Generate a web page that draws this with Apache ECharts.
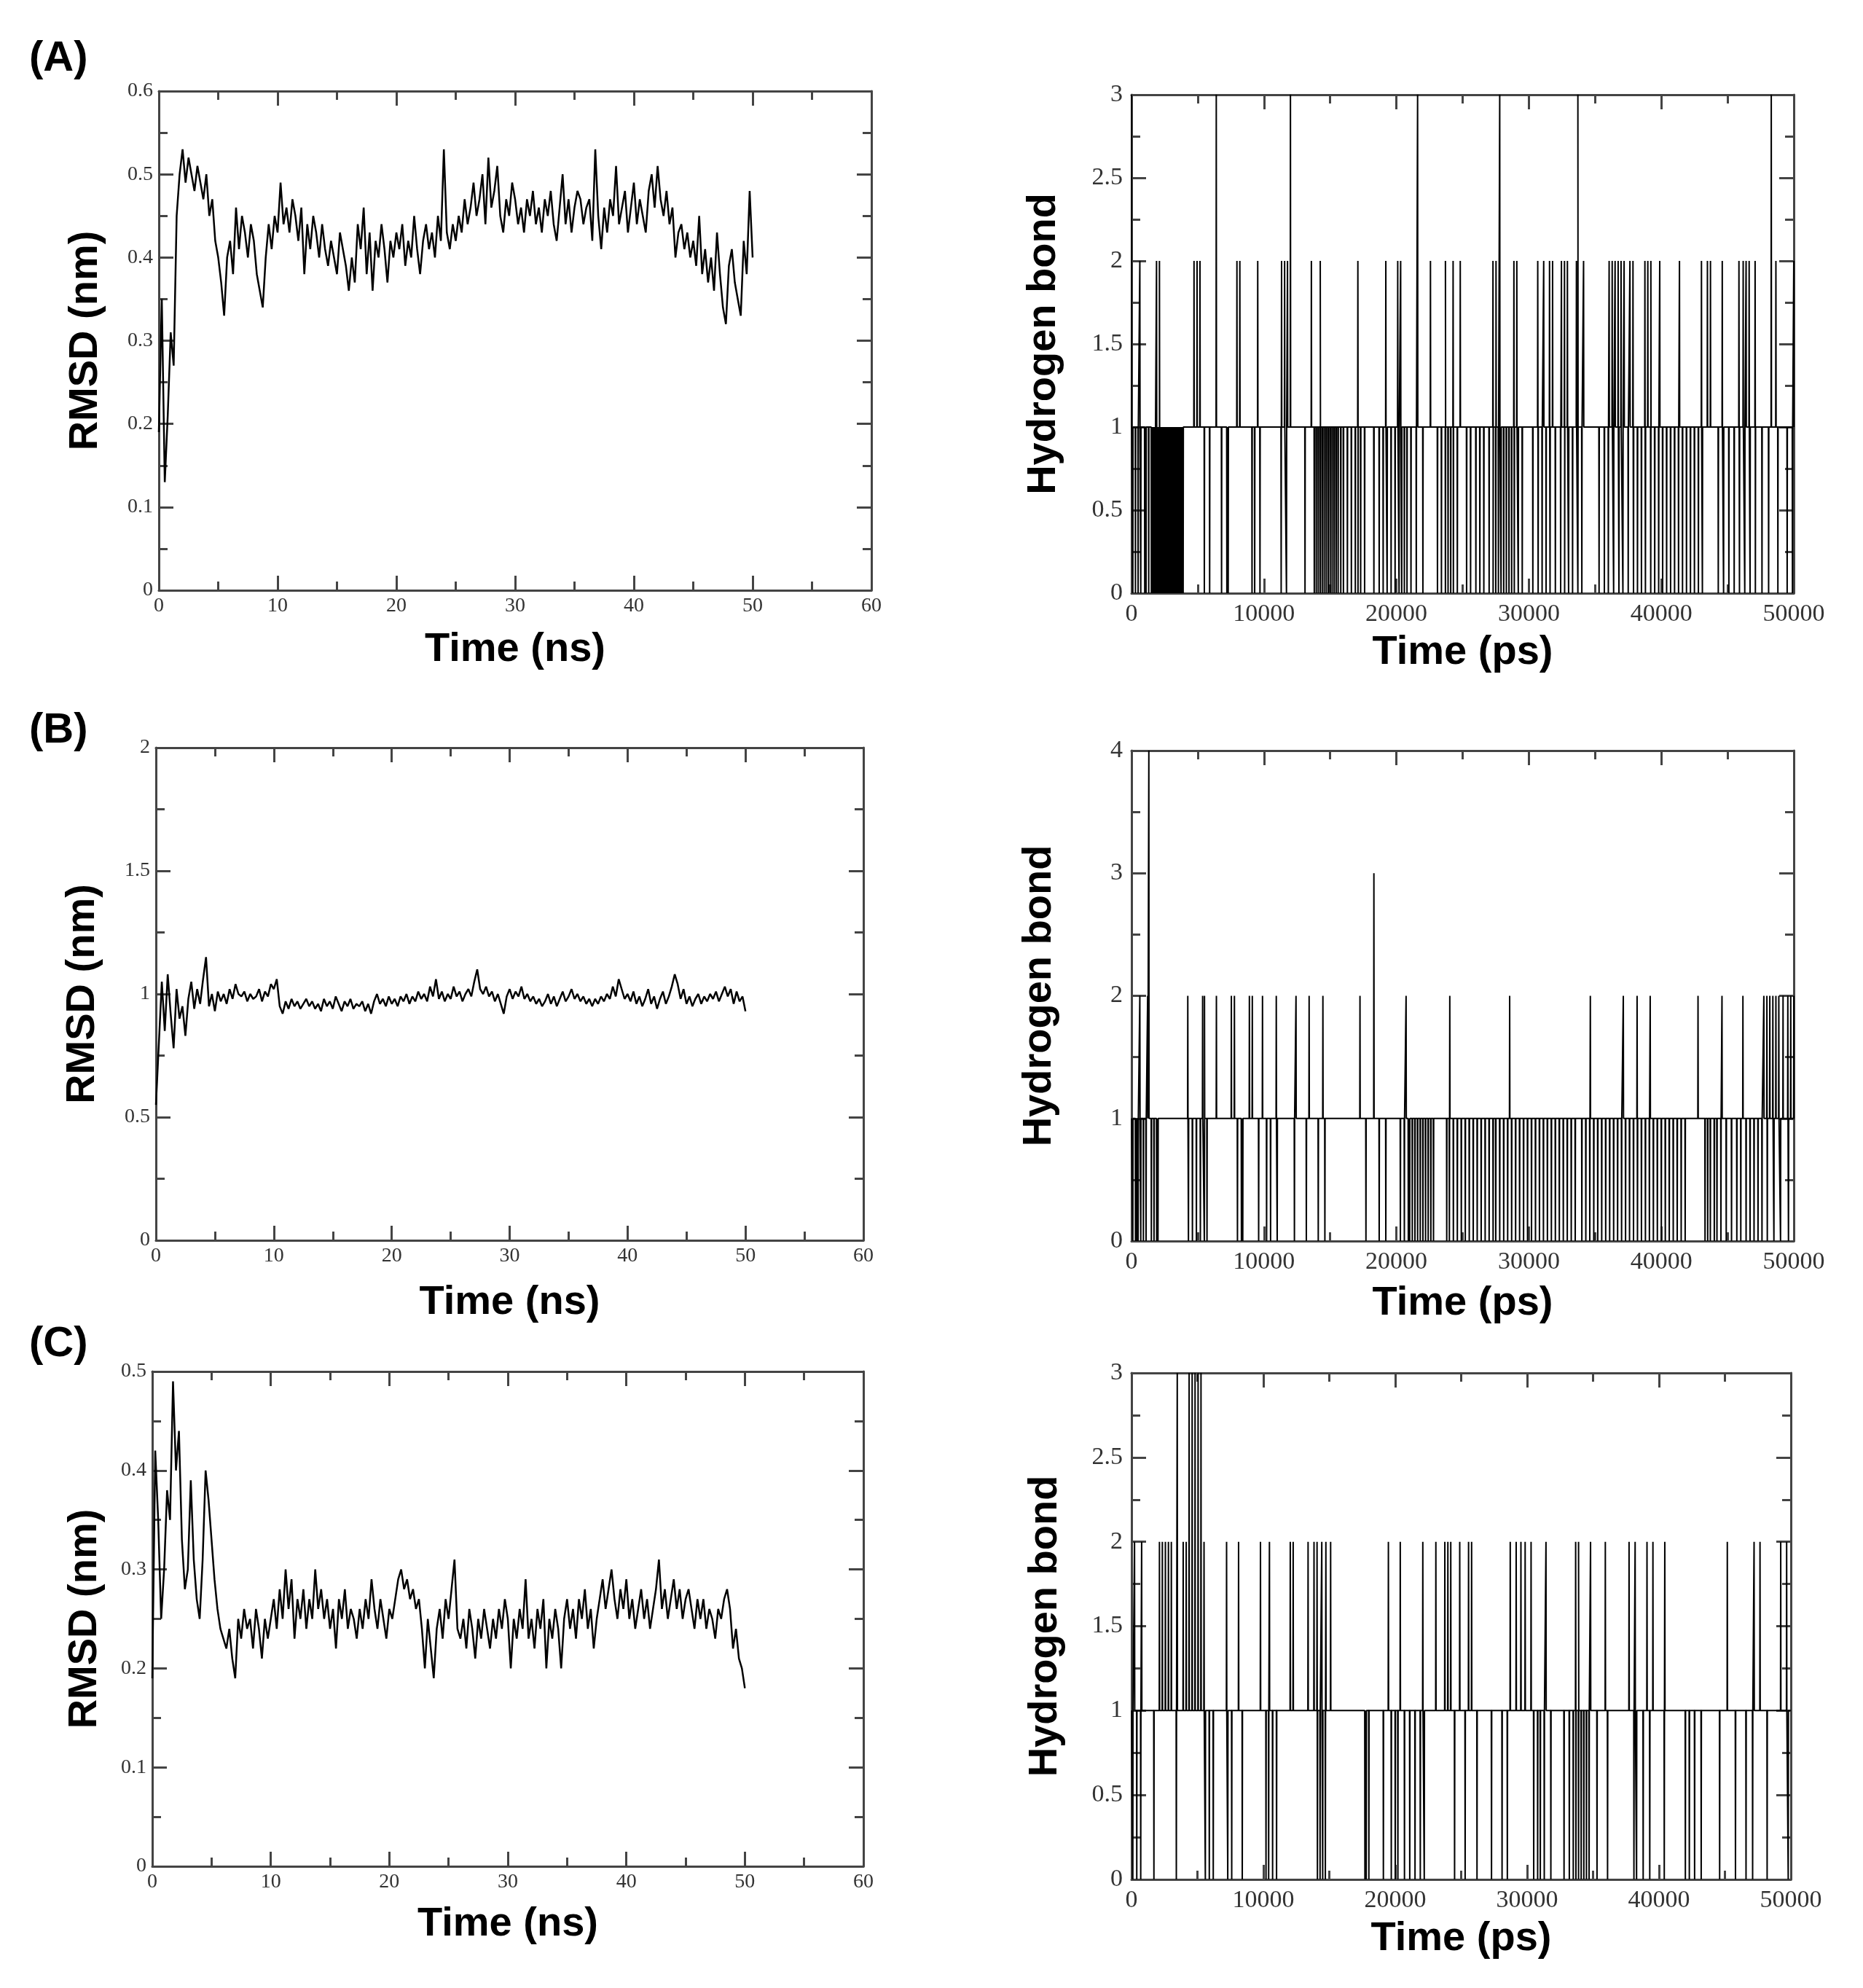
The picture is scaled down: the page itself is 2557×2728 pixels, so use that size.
<!DOCTYPE html>
<html style="height: 100%">
<head>
<meta charset="utf-8">
<script src="https://cdn.jsdelivr.net/npm/echarts@6/dist/echarts.min.js"></script>
</head>
<body style="height: 100%; margin: 0; background: #fff">
<div id="container" style="width: 2557px; height: 2728px"></div>
<script type="text/javascript">
// RMSD traces, one value every 0.25 ns from 0 to 50 ns
var rmsdStep = 0.25;
var rmsdA = [
 0.19,0.35,0.13,0.21,0.31,0.27,0.45,0.50,0.53,0.49,0.52,0.50,0.48,0.51,0.49,0.47,0.50,0.45,0.47,0.42,
 0.40,0.37,0.33,0.40,0.42,0.38,0.46,0.41,0.45,0.43,0.40,0.44,0.42,0.38,0.36,0.34,0.40,0.44,0.41,0.45,
 0.43,0.49,0.44,0.46,0.43,0.47,0.45,0.42,0.46,0.38,0.44,0.41,0.45,0.43,0.40,0.44,0.41,0.39,0.42,0.40,
 0.38,0.43,0.41,0.39,0.36,0.40,0.37,0.44,0.41,0.46,0.38,0.43,0.36,0.42,0.40,0.44,0.41,0.37,0.42,0.40,
 0.43,0.41,0.44,0.39,0.42,0.40,0.45,0.41,0.38,0.42,0.44,0.41,0.43,0.40,0.45,0.42,0.53,0.43,0.41,0.44,
 0.42,0.45,0.43,0.47,0.44,0.46,0.49,0.45,0.47,0.50,0.44,0.52,0.46,0.48,0.51,0.45,0.43,0.47,0.45,0.49,
 0.47,0.44,0.46,0.43,0.47,0.45,0.48,0.44,0.46,0.43,0.47,0.45,0.48,0.44,0.42,0.46,0.50,0.44,0.47,0.43,
 0.46,0.48,0.47,0.44,0.46,0.47,0.42,0.53,0.45,0.41,0.46,0.43,0.47,0.45,0.51,0.44,0.46,0.48,0.43,0.46,
 0.49,0.44,0.47,0.45,0.43,0.48,0.50,0.46,0.51,0.47,0.45,0.48,0.44,0.46,0.40,0.43,0.44,0.41,0.43,0.40,
 0.42,0.39,0.45,0.38,0.41,0.37,0.40,0.36,0.43,0.38,0.34,0.32,0.39,0.41,0.37,0.35,0.33,0.42,0.38,0.48,
 0.40
];
var rmsdB = [
 0.55,0.80,1.05,0.85,1.08,0.92,0.78,1.02,0.90,0.95,0.83,0.98,1.05,0.94,1.02,0.96,1.06,1.15,0.95,1.00,
 0.93,1.01,0.97,1.00,0.96,1.02,0.98,1.04,1.00,0.99,1.01,0.97,1.00,0.98,0.99,1.02,0.97,1.01,0.99,1.04,
 1.02,1.06,0.95,0.92,0.97,0.94,0.98,0.95,0.97,0.94,0.96,0.98,0.95,0.97,0.94,0.96,0.93,0.98,0.95,0.97,
 0.94,0.99,0.96,0.93,0.97,0.95,0.98,0.94,0.96,0.95,0.97,0.93,0.96,0.92,0.97,1.00,0.96,0.98,0.95,0.99,
 0.96,0.98,0.95,0.99,0.97,1.00,0.96,0.99,0.97,1.01,0.98,1.00,0.97,1.03,0.99,1.06,0.98,1.01,0.97,1.00,
 0.98,1.03,0.99,1.01,0.97,1.00,1.02,0.99,1.05,1.10,1.02,1.00,1.03,0.99,1.01,0.97,1.00,0.96,0.92,0.99,
 1.02,0.98,1.01,0.99,1.03,0.98,1.00,0.97,0.99,0.96,0.98,0.95,0.97,1.00,0.96,0.99,0.95,0.98,1.01,0.97,
 0.99,1.02,0.98,1.00,0.97,0.99,0.96,0.98,0.95,0.98,0.96,0.99,0.97,1.00,0.98,1.03,0.99,1.06,1.02,0.98,
 1.00,0.97,1.01,0.96,0.99,0.95,0.98,1.02,0.96,0.99,0.94,0.98,1.01,0.96,0.99,1.03,1.08,1.04,0.98,1.02,
 0.96,0.99,0.95,0.98,1.00,0.96,0.99,0.97,1.00,0.98,1.01,0.97,1.00,1.03,0.99,1.02,0.96,1.01,0.97,0.99,
 0.93
];
var rmsdC = [
 0.19,0.42,0.35,0.25,0.30,0.38,0.35,0.49,0.40,0.44,0.33,0.28,0.30,0.39,0.31,0.27,0.25,0.31,0.40,0.37,
 0.33,0.29,0.26,0.24,0.23,0.22,0.24,0.21,0.19,0.25,0.23,0.26,0.24,0.25,0.22,0.26,0.24,0.21,0.25,0.23,
 0.25,0.27,0.24,0.28,0.25,0.30,0.26,0.29,0.23,0.27,0.25,0.28,0.24,0.27,0.25,0.30,0.26,0.28,0.25,0.27,
 0.24,0.26,0.22,0.27,0.25,0.28,0.24,0.26,0.25,0.23,0.26,0.24,0.27,0.25,0.29,0.26,0.24,0.27,0.25,0.23,
 0.26,0.25,0.27,0.29,0.30,0.28,0.29,0.27,0.28,0.26,0.27,0.24,0.20,0.25,0.22,0.19,0.24,0.26,0.23,0.27,
 0.25,0.28,0.31,0.24,0.23,0.25,0.22,0.26,0.24,0.21,0.25,0.23,0.26,0.24,0.22,0.25,0.23,0.26,0.24,0.27,
 0.25,0.20,0.25,0.23,0.26,0.24,0.29,0.23,0.25,0.22,0.26,0.24,0.27,0.20,0.25,0.23,0.26,0.24,0.20,0.25,
 0.27,0.24,0.26,0.23,0.27,0.25,0.28,0.24,0.26,0.22,0.25,0.27,0.29,0.26,0.28,0.30,0.27,0.25,0.28,0.26,
 0.29,0.25,0.27,0.24,0.26,0.28,0.25,0.27,0.24,0.26,0.28,0.31,0.26,0.28,0.25,0.27,0.29,0.26,0.28,0.25,
 0.27,0.28,0.26,0.24,0.27,0.25,0.27,0.24,0.26,0.25,0.23,0.26,0.25,0.27,0.28,0.26,0.22,0.24,0.21,0.20,
 0.18
];

// hydrogen bond counts: the count sits at 1 and jumps to these values at these times (ps)
var hbA_zero = [100,300,500,700,1000,1100,1300,1500,1600,1700,1800,1900,2000,2100,2200,2300,2400,2500,2600,2700,
 2800,2900,3000,3100,3200,3300,3400,3500,3600,3700,3800,3900,5500,5900,6800,7200,7300,9100,9300,9700,
 11300,11700,13100,13800,13950,14100,14250,14400,14550,14700,14850,15000,15150,15300,15450,15600,15800,16000,16300,16600,
 16900,17100,17300,17600,18300,18700,19000,19300,19600,19900,20200,20400,20600,20800,21100,21500,22000,23100,23400,23700,
 23900,24100,24300,24600,25300,25600,26000,26300,26600,27000,27300,27500,27700,27900,28100,28300,28500,28700,28900,29200,
 29500,30300,30700,31000,31300,31600,32000,32400,32700,33000,33300,33700,34000,35300,35700,36000,36400,36800,37100,37500,
 37900,38200,38500,38800,39200,39500,39800,40100,40400,40700,41000,41300,41600,41900,42200,42500,42800,43100,44300,44700,
 45100,45500,45900,46300,46700,47100,47600,48100,48800,49500,49900];
var hbA_two = [630,1890,2110,4720,4950,5170,7960,8180,9530,11330,11560,11780,13580,14250,17090,19200,20100,20320,22570,23700,
 24280,24820,27290,27520,28870,29090,30670,31120,31560,31790,32460,32690,32910,33590,34130,36060,36290,36510,36740,36960,
 37190,37630,37860,38760,38980,39210,39880,41370,43030,43480,43710,44600,45860,46180,46400,46630,47080,48650,50000];
var hbA_three = [0,6400,12000,21600,27800,33700,48300];

var hbB_zero = [100,300,400,500,700,900,1100,1500,1700,1900,2000,4300,4600,4900,5200,5500,5700,8000,8300,8400,
 9600,10200,10500,11000,12300,13200,14100,14600,17700,18700,19200,20300,20600,20900,21000,21200,21400,21600,21800,22000,
 22200,22400,22600,22800,23800,24000,24300,24600,24900,25200,25500,25800,26100,26400,26700,27000,27300,27500,27800,28100,
 28400,28700,29000,29300,29600,29900,30200,30500,30800,31100,31400,31700,32000,32300,32600,32900,33200,33500,34000,34300,
 34600,34900,35200,35500,35800,36100,36400,36700,37000,37300,37600,37900,38200,38500,38800,39100,39400,39700,40000,40300,
 40600,40900,41200,41500,41800,43300,43500,43700,44000,44200,44500,44900,45300,45700,46000,46400,46700,47000,47300,47600,
 48000,48500,49000,49600];
var hbB_two = [630,1220,4250,5370,5510,6410,7540,7770,8900,9120,9890,10930,12420,13410,14450,17250,20730,24030,28550,34640,
 37130,38170,39160,42770,44580,46160,47740,47970,48190,48420,48650,48870,49190,49550,49770,50000];
var hbB_three = [18300];
var hbB_four = [1310];

var hbC_zero = [100,400,700,1700,3400,5600,5900,6200,7300,7600,8400,10200,10400,10700,11000,14100,14300,14500,14700,17700,
 17800,18000,19100,19700,20000,20200,20700,21100,21500,21900,22200,24500,25300,26200,27300,28100,28500,30500,30800,31000,
 31300,31800,32800,33200,33500,33700,33900,34100,34300,34500,34700,35300,36100,38100,38300,38800,39300,40400,42000,42300,
 42700,43200,44600,45800,46600,47100,48200,49800];
var hbC_two = [230,770,2120,2340,2570,2800,3020,3920,4150,5500,7210,8120,9780,10460,12040,12260,13390,13840,14070,14430,
 14740,15100,19480,20380,22090,23080,23760,23990,24210,24890,25560,25790,28720,29170,29530,29850,30300,31430,33680,33900,
 34810,35930,37730,38190,39090,39540,40440,45180,47210,47660,49230,49680];
var hbC_three = [3470,4370,4600,4820,5050,5270];

var nsTicks = {min: 0, max: 60, interval: 10};
var psTicks = {min: 0, max: 50000, interval: 10000};

function rmsdPoints(arr) {
    return arr.map(function (v, i) { return [i * rmsdStep, v]; });
}

function hbPoints(zero, two, three, four) {
    var ev = [];
    zero.forEach(function (t) { ev.push([t, 0]); });
    (two || []).forEach(function (t) { ev.push([t, 2]); });
    (three || []).forEach(function (t) { ev.push([t, 3]); });
    (four || []).forEach(function (t) { ev.push([t, 4]); });
    ev.sort(function (a, b) { return a[0] - b[0]; });
    var d = 15, pts = [[0, 1]];
    ev.forEach(function (e) {
        if (e[0] - d > 0) pts.push([e[0] - d, 1]);
        pts.push(e);
        if (e[0] + d < 50000) pts.push([e[0] + d, 1]);
    });
    pts.push([50000, 1]);
    return pts;
}

var grids = [
    {left: 218, top: 125, width: 978, height: 685},
    {left: 1553, top: 130, width: 909, height: 684},
    {left: 214, top: 1026, width: 971, height: 676},
    {left: 1553, top: 1030, width: 909, height: 673},
    {left: 209, top: 1882, width: 976, height: 679},
    {left: 1553, top: 1884, width: 905, height: 695}
];

var frame = '#444';
var nameFont = {fontFamily: 'Liberation Sans', fontWeight: 'bold', fontSize: 56, color: '#000'};

function axisPair(dim, gi, ticks, labelSize, name, nameGap, margin) {
    var base = {
        type: 'value', gridIndex: gi,
        min: ticks.min, max: ticks.max, interval: ticks.interval,
        splitLine: {show: false},
        axisLine: {show: true, onZero: false, lineStyle: {color: frame, width: 3}},
        axisTick: {show: true, inside: true, length: 20, lineStyle: {color: frame, width: 3}},
        minorTick: {show: true, splitNumber: 2, length: 12, lineStyle: {color: frame, width: 3}},
        minorSplitLine: {show: false}
    };
    var main = Object.assign({}, base, {
        position: dim === 'x' ? 'bottom' : 'left',
        name: name, nameLocation: 'middle', nameGap: nameGap, nameTextStyle: nameFont,
        axisLabel: {show: true, margin: margin, fontFamily: 'Liberation Serif', fontSize: labelSize,
            color: '#333', showMinLabel: true, showMaxLabel: true,
            formatter: function (v) { return String(v); }}
    });
    var mirror = Object.assign({}, base, {
        position: dim === 'x' ? 'top' : 'right',
        axisLabel: {show: false}
    });
    return [main, mirror];
}

var xAxes = [], yAxes = [];
function panel(gi, xt, yt, labelSize, xName, xGap, yName, yGap, margin) {
    xAxes = xAxes.concat(axisPair('x', gi, xt, labelSize, xName, xGap, margin));
    yAxes = yAxes.concat(axisPair('y', gi, yt, labelSize, yName, yGap, margin));
}
panel(0, nsTicks, {min: 0, max: 0.6, interval: 0.1}, 28, 'Time (ns)', 54, 'RMSD (nm)', 72, 8);
panel(1, psTicks, {min: 0, max: 3, interval: 0.5}, 34, 'Time (ps)', 54, 'Hydrogen bond', 92, 12);
panel(2, nsTicks, {min: 0, max: 2, interval: 0.5}, 28, 'Time (ns)', 58, 'RMSD (nm)', 72, 8);
panel(3, psTicks, {min: 0, max: 4, interval: 1}, 34, 'Time (ps)', 58, 'Hydrogen bond', 98, 12);
panel(4, nsTicks, {min: 0, max: 0.5, interval: 0.1}, 28, 'Time (ns)', 52, 'RMSD (nm)', 64, 8);
panel(5, psTicks, {min: 0, max: 3, interval: 0.5}, 34, 'Time (ps)', 54, 'Hydrogen bond', 90, 12);

function lineSeries(gi, data, w) {
    return {
        type: 'line', xAxisIndex: gi * 2, yAxisIndex: gi * 2, data: data,
        showSymbol: false, symbol: 'none', silent: true,
        lineStyle: {color: '#000', width: w}
    };
}

var labelStyle = {fontFamily: 'Liberation Sans', fontWeight: 'bold', fontSize: 58, fill: '#000'};
var myChart = echarts.init(document.getElementById('container'));
var option = {
    animation: false,
    backgroundColor: '#fff',
    grid: grids,
    xAxis: xAxes,
    yAxis: yAxes,
    graphic: [
        {type: 'text', left: 40, top: 52, style: Object.assign({text: '(A)'}, labelStyle)},
        {type: 'text', left: 40, top: 974, style: Object.assign({text: '(B)'}, labelStyle)},
        {type: 'text', left: 40, top: 1816, style: Object.assign({text: '(C)'}, labelStyle)}
    ],
    series: [
        lineSeries(0, rmsdPoints(rmsdA), 2.5),
        lineSeries(1, hbPoints(hbA_zero, hbA_two, hbA_three), 2),
        lineSeries(2, rmsdPoints(rmsdB), 2.5),
        lineSeries(3, hbPoints(hbB_zero, hbB_two, hbB_three, hbB_four), 2),
        lineSeries(4, rmsdPoints(rmsdC), 2.5),
        lineSeries(5, hbPoints(hbC_zero, hbC_two, hbC_three), 2)
    ]
};
myChart.setOption(option);
</script>
</body>
</html>
